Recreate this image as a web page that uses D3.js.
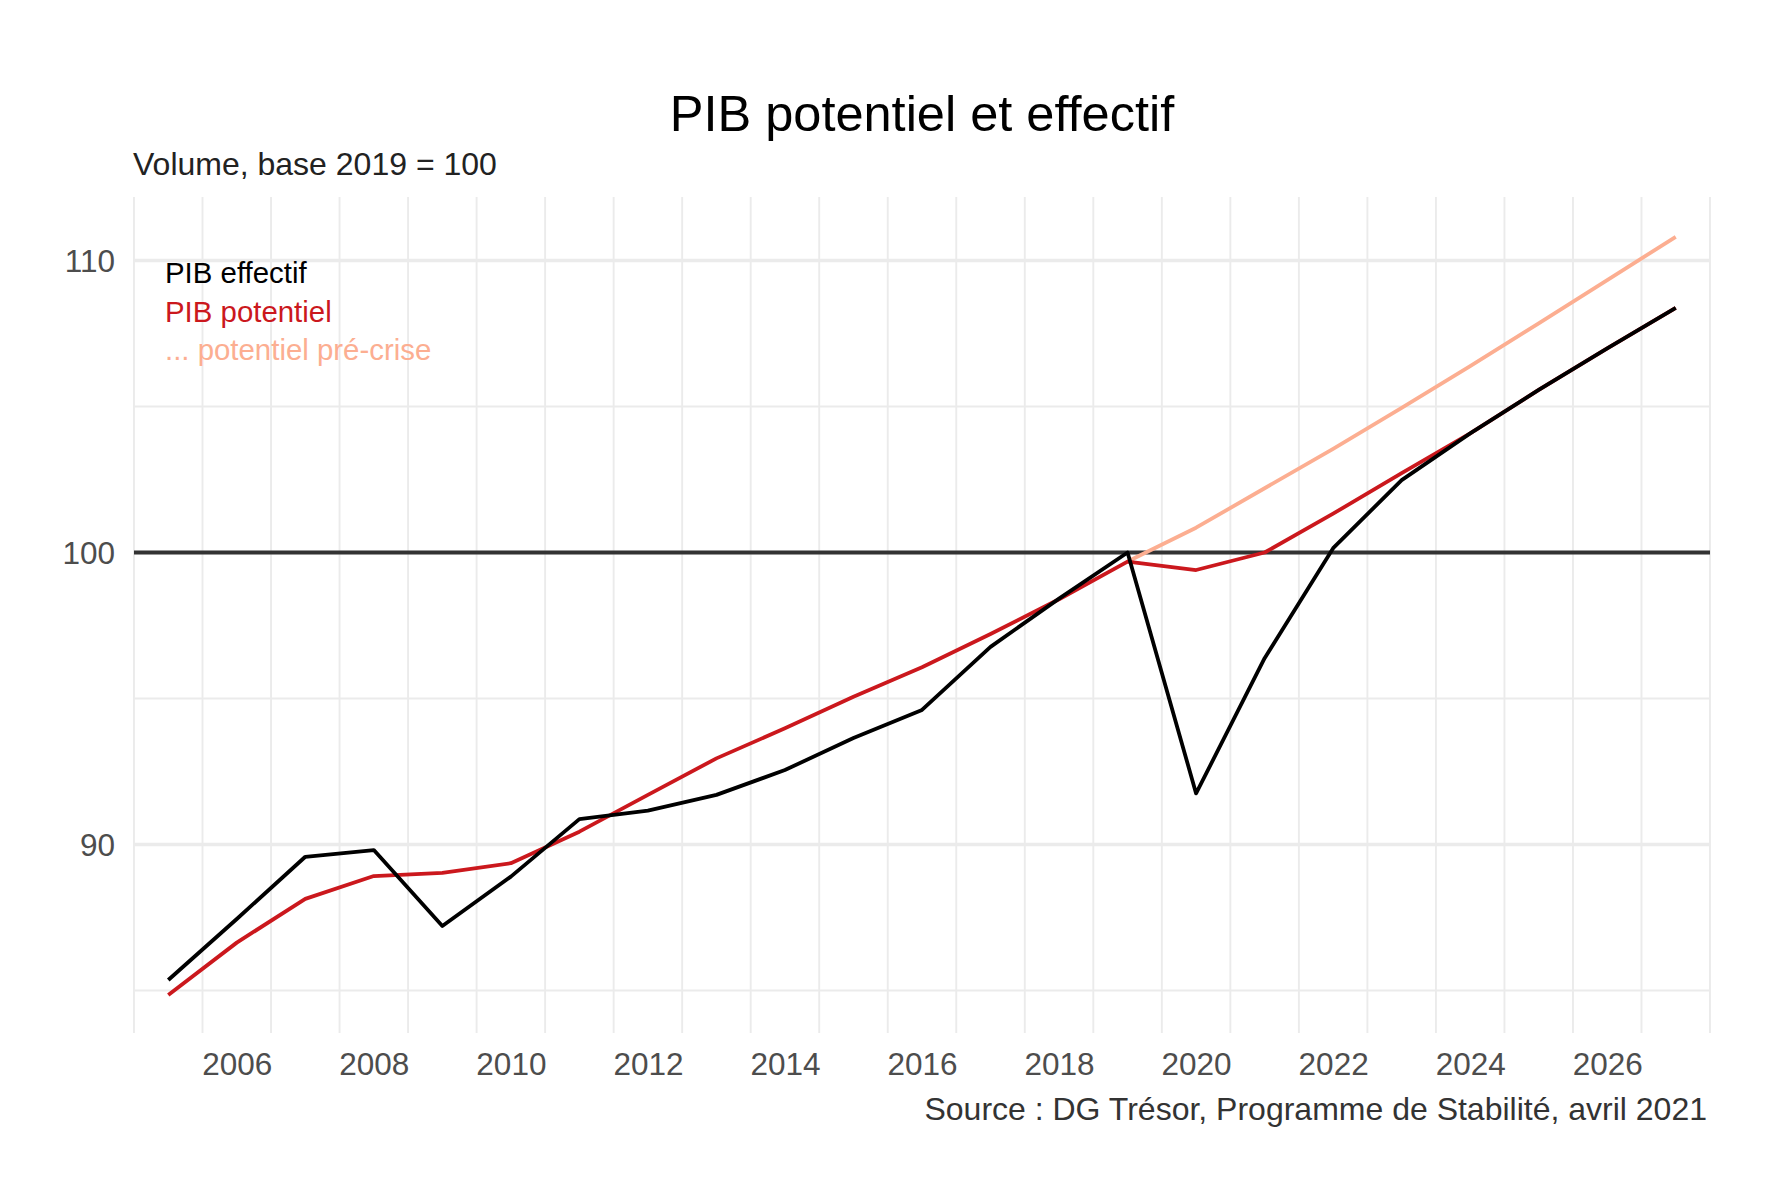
<!DOCTYPE html>
<html>
<head>
<meta charset="utf-8">
<script src="https://cdn.jsdelivr.net/npm/d3@7"></script>
<style>
  html, body { margin: 0; padding: 0; background: #fff; }
  svg { display: block; }
  text { font-family: "Liberation Sans", Arial, sans-serif; }
</style>
</head>
<body>
<svg id="chart" width="1783" height="1194"></svg>
<script>
// ---- Data ----
const years = [2005, 2006, 2007, 2008, 2009, 2010, 2011, 2012, 2013, 2014, 2015, 2016,
               2017, 2018, 2019, 2020, 2021, 2022, 2023, 2024, 2025, 2026, 2027];
const pibEffectif = [85.36, 87.45, 89.58, 89.81, 87.21, 88.90, 90.87, 91.16, 91.70, 92.55, 93.65, 94.61,
                     96.77, 98.42, 100.0, 91.75, 96.38, 100.15, 102.48, 104.08, 105.57, 106.99, 108.38];
const pibPotentiel = [84.85, 86.64, 88.14, 88.92, 89.03, 89.36, 90.44, 91.70, 92.95, 93.98, 95.06, 96.07,
                      97.21, 98.40, 99.69, 99.40, 100.0, 101.33, 102.72, 104.08, 105.57, 106.99, 108.38];
const preCriseYears = [2019, 2020, 2021, 2022, 2023, 2024, 2025, 2026, 2027];
const potentielPreCrise = [99.69, 100.85, 102.2, 103.55, 104.95, 106.38, 107.85, 109.33, 110.81];

const xTickLabels = [2006, 2008, 2010, 2012, 2014, 2016, 2018, 2020, 2022, 2024, 2026];
const yMajorTicks = [90, 100, 110];
const yMinorTicks = [85, 95, 105];
const legendLabels = ["PIB effectif", "PIB potentiel", "... potentiel pré-crise"];

const titleText = "PIB potentiel et effectif";
const subtitleText = "Volume, base 2019 = 100";
const captionText = "Source : DG Trésor, Programme de Stabilité, avril 2021";

// ---- Layout ----
const colors = { effectif: "#000000", potentiel: "#CB181D", preCrise: "#FCAE91" };
const panel = { left: 134, right: 1710, top: 197, bottom: 1033 };

const svg = d3.select("#chart");

const x = d3.scaleLinear().domain([2004.5, 2027.5]).range([panel.left, panel.right]);
const y = d3.scaleLinear().domain([83.545, 112.175]).range([panel.bottom, panel.top]);

const grid = svg.append("g");

// vertical grid lines between years
const vLines = d3.range(2004.5, 2028, 1);
grid.selectAll("line.v").data(vLines).join("line")
  .attr("x1", d => x(d)).attr("x2", d => x(d))
  .attr("y1", panel.top).attr("y2", panel.bottom)
  .attr("stroke", "#ebebeb").attr("stroke-width", 1.9);

// horizontal minor
grid.selectAll("line.hmin").data(yMinorTicks).join("line")
  .attr("x1", panel.left).attr("x2", panel.right)
  .attr("y1", d => y(d)).attr("y2", d => y(d))
  .attr("stroke", "#ebebeb").attr("stroke-width", 1.9);

// horizontal major
grid.selectAll("line.hmaj").data(yMajorTicks).join("line")
  .attr("x1", panel.left).attr("x2", panel.right)
  .attr("y1", d => y(d)).attr("y2", d => y(d))
  .attr("stroke", "#ebebeb").attr("stroke-width", 3.6);

// reference line at 100
svg.append("line")
  .attr("x1", panel.left).attr("x2", panel.right)
  .attr("y1", y(100)).attr("y2", y(100))
  .attr("stroke", "#333333").attr("stroke-width", 4.2);

// ---- Axes (text only, via d3 axes) ----
const yAxis = d3.axisLeft(y).tickValues(yMajorTicks).tickSize(0).tickPadding(0).tickFormat(d3.format("d"));
const yAxisG = svg.append("g").attr("transform", `translate(${115},0)`).call(yAxis);
yAxisG.select(".domain").remove();
yAxisG.selectAll("text")
  .attr("font-size", 31.5).attr("fill", "#4d4d4d")
  .attr("font-family", "'Liberation Sans', Arial, sans-serif")
  .attr("dy", "0.35em").attr("x", 0);

const xAxis = d3.axisBottom(x).tickValues(xTickLabels).tickSize(0).tickPadding(0).tickFormat(d3.format("d"));
const xAxisG = svg.append("g").attr("transform", `translate(0,${1075})`).call(xAxis);
xAxisG.select(".domain").remove();
xAxisG.selectAll("text")
  .attr("font-size", 31.5).attr("fill", "#4d4d4d")
  .attr("font-family", "'Liberation Sans', Arial, sans-serif")
  .attr("y", 0).attr("dy", 0);

// ---- Lines ----
const line = d3.line().x(d => x(d[0])).y(d => y(d[1]));

const seriesPre = preCriseYears.map((yr, i) => [yr, potentielPreCrise[i]]);
const seriesPot = years.map((yr, i) => [yr, pibPotentiel[i]]);
const seriesEff = years.map((yr, i) => [yr, pibEffectif[i]]);

svg.append("path").datum(seriesPre).attr("d", line)
  .attr("fill", "none").attr("stroke", colors.preCrise).attr("stroke-width", 3.8)
  .attr("stroke-linejoin", "round");
svg.append("path").datum(seriesPot).attr("d", line)
  .attr("fill", "none").attr("stroke", colors.potentiel).attr("stroke-width", 3.8)
  .attr("stroke-linejoin", "round");
svg.append("path").datum(seriesEff).attr("d", line)
  .attr("fill", "none").attr("stroke", colors.effectif).attr("stroke-width", 3.8)
  .attr("stroke-linejoin", "round");

// ---- Legend (text) ----
const legendColors = [colors.effectif, colors.potentiel, colors.preCrise];
svg.append("g").selectAll("text").data(legendLabels).join("text")
  .attr("x", 165).attr("y", (d, i) => 283 + i * 38.5)
  .attr("font-size", 29.4).attr("fill", (d, i) => legendColors[i])
  .text(d => d);

// ---- Titles ----
svg.append("text").attr("x", (panel.left + panel.right) / 2).attr("y", 131)
  .attr("text-anchor", "middle").attr("font-size", 50.5).attr("fill", "#000")
  .text(titleText);
svg.append("text").attr("x", 133).attr("y", 175)
  .attr("font-size", 32).attr("fill", "#222")
  .text(subtitleText);
svg.append("text").attr("x", 1707).attr("y", 1120)
  .attr("text-anchor", "end").attr("font-size", 32).attr("fill", "#333")
  .text(captionText);
</script>
</body>
</html>
